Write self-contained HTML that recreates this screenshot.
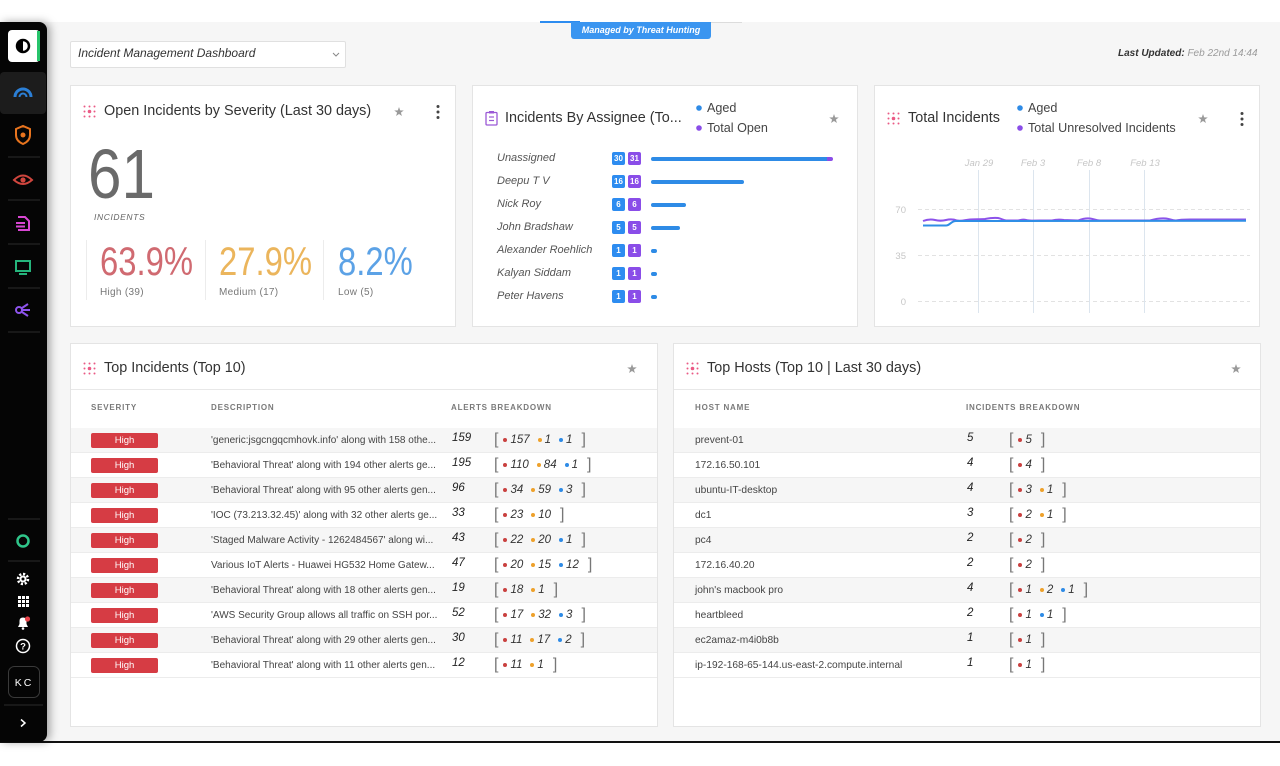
<!DOCTYPE html>
<html><head><meta charset="utf-8">
<style>
*{margin:0;padding:0;box-sizing:border-box}
body{width:1280px;height:766px;position:relative;overflow:hidden;background:#fff;font-family:"Liberation Sans",sans-serif;color:#333}
.t{position:absolute;white-space:nowrap}
.card{position:absolute;background:#fff;box-shadow:0 0 0 1px #e4e4e4}
.ttl{position:absolute;font-size:14.4px;line-height:18px;color:#333;white-space:nowrap}
.ch{position:absolute;top:59px;line-height:10px;font-size:8px;font-weight:bold;letter-spacing:.8px;color:#7a7a7a;white-space:nowrap}
.row{position:absolute;left:0;width:100%;height:25px;border-bottom:1px solid #ececec}
.odd{background:#f6f6f6}
.hb{position:absolute;left:20px;top:5px;width:67px;height:15px;background:#d63c44;color:#fff;font-size:9.5px;line-height:15px;text-align:center;border-radius:2px}
.ds{position:absolute;top:0;line-height:25px;font-size:10px;color:#444;white-space:nowrap}
.hn{position:absolute;left:21px;top:0;line-height:25px;font-size:10.2px;color:#444;white-space:nowrap}
.ct{position:absolute;top:0;line-height:20px;font-size:11.5px;font-style:italic;color:#222}
.bd{position:absolute;top:0;line-height:24px;white-space:nowrap}
.bk{font-size:16px;color:#777;vertical-align:middle}
.bd i{font-size:11.5px;color:#333;vertical-align:middle}
.dt{display:inline-block;width:4px;height:4px;border-radius:50%;vertical-align:middle;margin:0 3px 0 8px}
.dt.f{margin-left:5px}
.bk.e{margin-left:9px}
.r{background:#c9403f}.o{background:#eea12b}.b{background:#2e8be6}
.nm{position:absolute;left:497px;font-size:11px;font-style:italic;color:#555;line-height:14px;white-space:nowrap}
.bg{position:absolute;width:13px;height:13px;border-radius:2px;color:#fff;font-size:8px;font-weight:bold;line-height:13px;text-align:center}
.bar{position:absolute;left:651px;height:4px;border-radius:2px;background:#2e8be6}
.lg{position:absolute;font-size:12.6px;line-height:16px;color:#444;white-space:nowrap}
</style></head><body>

<div style="position:absolute;left:0;top:22px;width:1280px;height:720px;background:#f6f6f6"></div>
<div style="position:absolute;left:0;top:741px;width:1280px;height:2px;background:#111"></div>

<div style="position:absolute;left:540px;top:22px;width:202px;height:1px;background:#dcdcdc"></div>
<div style="position:absolute;left:540px;top:21px;width:40px;height:2px;background:#2d8cf0"></div>
<div style="position:absolute;left:571px;top:22px;width:140px;height:17px;background:#3a95f0;border-radius:0 0 3px 3px;color:#fff;font-size:9px;font-weight:bold;font-style:italic;line-height:17px;text-align:center">Managed by Threat Hunting</div>

<div style="position:absolute;left:70px;top:41px;width:276px;height:27px;background:#fff;border:1px solid #e0e0e0;border-radius:2px"></div>
<div class="t" style="left:78px;top:45px;font-size:12px;font-style:italic;line-height:16px;color:#333">Incident Management Dashboard</div>

<div class="t" style="left:1118px;top:47px;font-size:10px;line-height:13px"><b><i style="color:#333">Last Updated:</i></b> <i style="color:#9a9a9a">Feb 22nd 14:44</i></div>

<div class="card" style="left:71px;top:86px;width:384px;height:240px"></div>
<div class="card" style="left:473px;top:86px;width:384px;height:240px"></div>
<div class="card" style="left:875px;top:86px;width:384px;height:240px"></div>

<div class="ttl" style="left:104px;top:102px">Open Incidents by Severity (Last 30 days)</div>
<div class="t" style="left:88px;top:139px;font-size:70px;line-height:70px;color:#6a6a6a;transform:scaleX(.86);transform-origin:left">61</div>
<div class="t" style="left:94px;top:212px;font-size:8.5px;line-height:10px;font-style:italic;letter-spacing:.6px;color:#666">INCIDENTS</div>
<div style="position:absolute;left:86px;top:240px;width:1px;height:60px;background:#ececec"></div>
<div style="position:absolute;left:205px;top:240px;width:1px;height:60px;background:#ececec"></div>
<div style="position:absolute;left:323px;top:240px;width:1px;height:60px;background:#ececec"></div>
<div class="t" style="left:100px;top:242px;font-size:40px;line-height:40px;color:#d06a71;transform:scaleX(.82);transform-origin:left">63.9%</div>
<div class="t" style="left:219px;top:242px;font-size:40px;line-height:40px;color:#ebb55c;transform:scaleX(.82);transform-origin:left">27.9%</div>
<div class="t" style="left:338px;top:242px;font-size:40px;line-height:40px;color:#5ca2e6;transform:scaleX(.82);transform-origin:left">8.2%</div>
<div class="t" style="left:100px;top:287px;font-size:10px;line-height:12px;color:#777;letter-spacing:.3px">High (39)</div>
<div class="t" style="left:219px;top:287px;font-size:10px;line-height:12px;color:#777;letter-spacing:.3px">Medium (17)</div>
<div class="t" style="left:338px;top:287px;font-size:10px;line-height:12px;color:#777;letter-spacing:.3px">Low (5)</div>

<div class="ttl" style="left:505px;top:109px">Incidents By Assignee (To...</div>
<div class="lg" style="left:707px;top:100px">Aged</div>
<div class="lg" style="left:707px;top:120px">Total Open</div>

<div class="nm" style="top:151px">Unassigned</div>
<div class="nm" style="top:174px">Deepu T V</div>
<div class="nm" style="top:197px">Nick Roy</div>
<div class="nm" style="top:220px">John Bradshaw</div>
<div class="nm" style="top:243px">Alexander Roehlich</div>
<div class="nm" style="top:266px">Kalyan Siddam</div>
<div class="nm" style="top:289px">Peter Havens</div>

<div class="bg" style="left:612px;top:152px;background:#2d8cf0">30</div><div class="bg" style="left:628px;top:152px;background:#8a4de8">31</div>
<div class="bg" style="left:612px;top:175px;background:#2d8cf0">16</div><div class="bg" style="left:628px;top:175px;background:#8a4de8">16</div>
<div class="bg" style="left:612px;top:198px;background:#2d8cf0">6</div><div class="bg" style="left:628px;top:198px;background:#8a4de8">6</div>
<div class="bg" style="left:612px;top:221px;background:#2d8cf0">5</div><div class="bg" style="left:628px;top:221px;background:#8a4de8">5</div>
<div class="bg" style="left:612px;top:244px;background:#2d8cf0">1</div><div class="bg" style="left:628px;top:244px;background:#8a4de8">1</div>
<div class="bg" style="left:612px;top:267px;background:#2d8cf0">1</div><div class="bg" style="left:628px;top:267px;background:#8a4de8">1</div>
<div class="bg" style="left:612px;top:290px;background:#2d8cf0">1</div><div class="bg" style="left:628px;top:290px;background:#8a4de8">1</div>

<div class="bar" style="top:157px;width:182px;background:linear-gradient(to right,#2e8be6 0,#2e8be6 176px,#8a4de8 176px)"></div>
<div class="bar" style="top:180px;width:93px"></div>
<div class="bar" style="top:203px;width:35px"></div>
<div class="bar" style="top:226px;width:29px"></div>
<div class="bar" style="top:249px;width:6px"></div>
<div class="bar" style="top:272px;width:6px"></div>
<div class="bar" style="top:295px;width:6px"></div>

<div class="ttl" style="left:908px;top:109px">Total Incidents</div>
<div class="lg" style="left:1028px;top:100px">Aged</div>
<div class="lg" style="left:1028px;top:120px">Total Unresolved Incidents</div>

<div class="card" style="left:71px;top:344px;width:586px;height:382px">
  <div class="ttl" style="left:33px;top:15px">Top Incidents (Top 10)</div>
  <div style="position:absolute;left:0;top:45px;width:100%;height:1px;background:#e8e8e8"></div>
  <div class="ch" style="left:20px">SEVERITY</div>
  <div class="ch" style="left:140px">DESCRIPTION</div>
  <div class="ch" style="left:380px">ALERTS BREAKDOWN</div>

  <div class="row odd" style="top:84px"><div class="hb">High</div><div class="ds" style="left:140px">'generic:jsgcngqcmhovk.info' along with 158 othe...</div><div class="ct" style="left:381px">159</div><div class="bd" style="left:423px"><span class="bk">[</span><span class="dt f r"></span><i>157</i><span class="dt o"></span><i>1</i><span class="dt b"></span><i>1</i><span class="bk e">]</span></div></div>
  <div class="row" style="top:109px"><div class="hb">High</div><div class="ds" style="left:140px">'Behavioral Threat' along with 194 other alerts ge...</div><div class="ct" style="left:381px">195</div><div class="bd" style="left:423px"><span class="bk">[</span><span class="dt f r"></span><i>110</i><span class="dt o"></span><i>84</i><span class="dt b"></span><i>1</i><span class="bk e">]</span></div></div>
  <div class="row odd" style="top:134px"><div class="hb">High</div><div class="ds" style="left:140px">'Behavioral Threat' along with 95 other alerts gen...</div><div class="ct" style="left:381px">96</div><div class="bd" style="left:423px"><span class="bk">[</span><span class="dt f r"></span><i>34</i><span class="dt o"></span><i>59</i><span class="dt b"></span><i>3</i><span class="bk e">]</span></div></div>
  <div class="row" style="top:159px"><div class="hb">High</div><div class="ds" style="left:140px">'IOC (73.213.32.45)' along with 32 other alerts ge...</div><div class="ct" style="left:381px">33</div><div class="bd" style="left:423px"><span class="bk">[</span><span class="dt f r"></span><i>23</i><span class="dt o"></span><i>10</i><span class="bk e">]</span></div></div>
  <div class="row odd" style="top:184px"><div class="hb">High</div><div class="ds" style="left:140px">'Staged Malware Activity - 1262484567' along wi...</div><div class="ct" style="left:381px">43</div><div class="bd" style="left:423px"><span class="bk">[</span><span class="dt f r"></span><i>22</i><span class="dt o"></span><i>20</i><span class="dt b"></span><i>1</i><span class="bk e">]</span></div></div>
  <div class="row" style="top:209px"><div class="hb">High</div><div class="ds" style="left:140px">Various IoT Alerts - Huawei HG532 Home Gatew...</div><div class="ct" style="left:381px">47</div><div class="bd" style="left:423px"><span class="bk">[</span><span class="dt f r"></span><i>20</i><span class="dt o"></span><i>15</i><span class="dt b"></span><i>12</i><span class="bk e">]</span></div></div>
  <div class="row odd" style="top:234px"><div class="hb">High</div><div class="ds" style="left:140px">'Behavioral Threat' along with 18 other alerts gen...</div><div class="ct" style="left:381px">19</div><div class="bd" style="left:423px"><span class="bk">[</span><span class="dt f r"></span><i>18</i><span class="dt o"></span><i>1</i><span class="bk e">]</span></div></div>
  <div class="row" style="top:259px"><div class="hb">High</div><div class="ds" style="left:140px">'AWS Security Group allows all traffic on SSH por...</div><div class="ct" style="left:381px">52</div><div class="bd" style="left:423px"><span class="bk">[</span><span class="dt f r"></span><i>17</i><span class="dt o"></span><i>32</i><span class="dt b"></span><i>3</i><span class="bk e">]</span></div></div>
  <div class="row odd" style="top:284px"><div class="hb">High</div><div class="ds" style="left:140px">'Behavioral Threat' along with 29 other alerts gen...</div><div class="ct" style="left:381px">30</div><div class="bd" style="left:423px"><span class="bk">[</span><span class="dt f r"></span><i>11</i><span class="dt o"></span><i>17</i><span class="dt b"></span><i>2</i><span class="bk e">]</span></div></div>
  <div class="row" style="top:309px"><div class="hb">High</div><div class="ds" style="left:140px">'Behavioral Threat' along with 11 other alerts gen...</div><div class="ct" style="left:381px">12</div><div class="bd" style="left:423px"><span class="bk">[</span><span class="dt f r"></span><i>11</i><span class="dt o"></span><i>1</i><span class="bk e">]</span></div></div>
</div>

<div class="card" style="left:674px;top:344px;width:586px;height:382px">
  <div class="ttl" style="left:33px;top:15px">Top Hosts (Top 10 | Last 30 days)</div>
  <div style="position:absolute;left:0;top:45px;width:100%;height:1px;background:#e8e8e8"></div>
  <div class="ch" style="left:21px">HOST NAME</div>
  <div class="ch" style="left:292px">INCIDENTS BREAKDOWN</div>

  <div class="row odd" style="top:84px"><div class="hn">prevent-01</div><div class="ct" style="left:293px">5</div><div class="bd" style="left:335px"><span class="bk">[</span><span class="dt f r"></span><i>5</i><span class="bk e">]</span></div></div>
  <div class="row" style="top:109px"><div class="hn">172.16.50.101</div><div class="ct" style="left:293px">4</div><div class="bd" style="left:335px"><span class="bk">[</span><span class="dt f r"></span><i>4</i><span class="bk e">]</span></div></div>
  <div class="row odd" style="top:134px"><div class="hn">ubuntu-IT-desktop</div><div class="ct" style="left:293px">4</div><div class="bd" style="left:335px"><span class="bk">[</span><span class="dt f r"></span><i>3</i><span class="dt o"></span><i>1</i><span class="bk e">]</span></div></div>
  <div class="row" style="top:159px"><div class="hn">dc1</div><div class="ct" style="left:293px">3</div><div class="bd" style="left:335px"><span class="bk">[</span><span class="dt f r"></span><i>2</i><span class="dt o"></span><i>1</i><span class="bk e">]</span></div></div>
  <div class="row odd" style="top:184px"><div class="hn">pc4</div><div class="ct" style="left:293px">2</div><div class="bd" style="left:335px"><span class="bk">[</span><span class="dt f r"></span><i>2</i><span class="bk e">]</span></div></div>
  <div class="row" style="top:209px"><div class="hn">172.16.40.20</div><div class="ct" style="left:293px">2</div><div class="bd" style="left:335px"><span class="bk">[</span><span class="dt f r"></span><i>2</i><span class="bk e">]</span></div></div>
  <div class="row odd" style="top:234px"><div class="hn">john's macbook pro</div><div class="ct" style="left:293px">4</div><div class="bd" style="left:335px"><span class="bk">[</span><span class="dt f r"></span><i>1</i><span class="dt o"></span><i>2</i><span class="dt b"></span><i>1</i><span class="bk e">]</span></div></div>
  <div class="row" style="top:259px"><div class="hn">heartbleed</div><div class="ct" style="left:293px">2</div><div class="bd" style="left:335px"><span class="bk">[</span><span class="dt f r"></span><i>1</i><span class="dt b"></span><i>1</i><span class="bk e">]</span></div></div>
  <div class="row odd" style="top:284px"><div class="hn">ec2amaz-m4i0b8b</div><div class="ct" style="left:293px">1</div><div class="bd" style="left:335px"><span class="bk">[</span><span class="dt f r"></span><i>1</i><span class="bk e">]</span></div></div>
  <div class="row" style="top:309px"><div class="hn">ip-192-168-65-144.us-east-2.compute.internal</div><div class="ct" style="left:293px">1</div><div class="bd" style="left:335px"><span class="bk">[</span><span class="dt f r"></span><i>1</i><span class="bk e">]</span></div></div>
</div>

<div style="position:absolute;left:0;top:22px;width:47px;height:720px;background:#050505;border-radius:0 8px 8px 0;box-shadow:3px 0 9px rgba(0,0,0,.35)"></div>

<svg style="position:absolute;left:0;top:0" width="1280" height="766" viewBox="0 0 1280 766">
  <rect x="8" y="30" width="32" height="32" rx="4" fill="#fff"/>
  <rect x="37" y="31" width="3" height="30" fill="#27c46b"/>
  <circle cx="23" cy="46" r="6" fill="none" stroke="#000" stroke-width="2.5"/>
  <path d="M23 40 A6 6 0 0 0 23 52 Z" fill="#000"/>
  <rect x="0" y="72" width="46" height="42" rx="4" fill="#1c1c1c"/>
  <g stroke="#2a2a2a" stroke-width="1">
    <line x1="8" y1="157" x2="40" y2="157"/><line x1="8" y1="200" x2="40" y2="200"/>
    <line x1="8" y1="244" x2="40" y2="244"/><line x1="8" y1="288" x2="40" y2="288"/>
    <line x1="8" y1="332" x2="40" y2="332"/><line x1="8" y1="519" x2="40" y2="519"/>
    <line x1="8" y1="561" x2="40" y2="561"/><line x1="4" y1="705" x2="43" y2="705"/>
  </g>
  <path d="M15 97 A8 8 0 0 1 31 97" fill="none" stroke="#2b7fd6" stroke-width="3"/>
  <path d="M19.5 97 A3.5 3.5 0 0 1 26.5 97" fill="none" stroke="#2b7fd6" stroke-width="2"/>
  <path d="M16 129 L23 126 L30 129 L30 135 Q30 141 23 144 Q16 141 16 135 Z" fill="none" stroke="#e8741e" stroke-width="2"/>
  <circle cx="23" cy="135" r="2.5" fill="#e8741e"/>
  <path d="M14 180 Q23 171 32 180 Q23 188 14 180 Z" fill="none" stroke="#d0463e" stroke-width="2"/>
  <circle cx="23" cy="180" r="2.6" fill="#d0463e"/>
  <path d="M18 217 L25 217 L29 221 L29 230 L18 230" fill="none" stroke="#d946d3" stroke-width="2"/>
  <line x1="16" y1="223" x2="25" y2="223" stroke="#d946d3" stroke-width="2"/>
  <line x1="16" y1="226.5" x2="25" y2="226.5" stroke="#d946d3" stroke-width="2"/>
  <rect x="16" y="261" width="14" height="10" fill="none" stroke="#25b57c" stroke-width="2"/>
  <line x1="19" y1="274" x2="27" y2="274" stroke="#25b57c" stroke-width="2"/>
  <circle cx="19" cy="310" r="3" fill="none" stroke="#8e54ec" stroke-width="2"/>
  <g stroke="#8e54ec" stroke-width="2"><line x1="22" y1="308" x2="28" y2="304"/><line x1="22.5" y1="310" x2="30" y2="310"/><line x1="22" y1="312" x2="28" y2="316"/></g>
  <circle cx="23" cy="541" r="5.5" fill="none" stroke="#2fc58a" stroke-width="2.5"/>
  <circle cx="23" cy="579" r="5" fill="none" stroke="#fff" stroke-width="2.5" stroke-dasharray="2.2 1.7"/>
  <circle cx="23" cy="579" r="3.5" fill="#fff"/><circle cx="23" cy="579" r="1.5" fill="#050505"/>
  <g fill="#fff">
    <rect x="18" y="596" width="3" height="3"/><rect x="22" y="596" width="3" height="3"/><rect x="26" y="596" width="3" height="3"/>
    <rect x="18" y="600" width="3" height="3"/><rect x="22" y="600" width="3" height="3"/><rect x="26" y="600" width="3" height="3"/>
    <rect x="18" y="604" width="3" height="3"/><rect x="22" y="604" width="3" height="3"/><rect x="26" y="604" width="3" height="3"/>
  </g>
  <path d="M18 627 L19.5 624 L19.5 621 Q19.5 617.5 23 617.5 Q26.5 617.5 26.5 621 L26.5 624 L28 627 Z" fill="#fff"/>
  <circle cx="23" cy="628.5" r="1.3" fill="#fff"/>
  <circle cx="27.5" cy="619" r="2.6" fill="#e8434a"/>
  <circle cx="23" cy="646" r="6.5" fill="none" stroke="#fff" stroke-width="1.5"/>
  <text x="23" y="649.5" font-family="Liberation Sans, sans-serif" font-size="9.5" font-weight="bold" fill="#fff" text-anchor="middle">?</text>
  <rect x="8.5" y="666.5" width="31" height="31" rx="6" fill="none" stroke="#3a3a3a"/>
  <text x="24" y="686" font-family="Liberation Sans, sans-serif" font-size="10.5" fill="#fff" text-anchor="middle" letter-spacing="2">KC</text>
  <polyline points="21,719.5 25,723 21,726.5" fill="none" stroke="#fff" stroke-width="1.5"/>

  <polyline points="333,53 336,56 339,53" fill="none" stroke="#888" stroke-width="1"/>

  <g fill="#ea5a85">
    <g transform="translate(89.5,111.5)"><circle cx="-5" cy="-5" r="1"/><circle cx="0" cy="-5" r="1"/><circle cx="5" cy="-5" r="1"/><circle cx="-5" cy="0" r="1"/><circle cx="0" cy="0" r="1.8"/><circle cx="5" cy="0" r="1"/><circle cx="-5" cy="5" r="1"/><circle cx="0" cy="5" r="1"/><circle cx="5" cy="5" r="1"/></g>
    <g transform="translate(893.5,118.5)"><circle cx="-5" cy="-5" r="1"/><circle cx="0" cy="-5" r="1"/><circle cx="5" cy="-5" r="1"/><circle cx="-5" cy="0" r="1"/><circle cx="0" cy="0" r="1.8"/><circle cx="5" cy="0" r="1"/><circle cx="-5" cy="5" r="1"/><circle cx="0" cy="5" r="1"/><circle cx="5" cy="5" r="1"/></g>
    <g transform="translate(89.5,368.5)"><circle cx="-5" cy="-5" r="1"/><circle cx="0" cy="-5" r="1"/><circle cx="5" cy="-5" r="1"/><circle cx="-5" cy="0" r="1"/><circle cx="0" cy="0" r="1.8"/><circle cx="5" cy="0" r="1"/><circle cx="-5" cy="5" r="1"/><circle cx="0" cy="5" r="1"/><circle cx="5" cy="5" r="1"/></g>
    <g transform="translate(692.5,368.5)"><circle cx="-5" cy="-5" r="1"/><circle cx="0" cy="-5" r="1"/><circle cx="5" cy="-5" r="1"/><circle cx="-5" cy="0" r="1"/><circle cx="0" cy="0" r="1.8"/><circle cx="5" cy="0" r="1"/><circle cx="-5" cy="5" r="1"/><circle cx="0" cy="5" r="1"/><circle cx="5" cy="5" r="1"/></g>
  </g>
  <rect x="486" y="112.5" width="11" height="12.5" rx="1" fill="none" stroke="#9b59d6" stroke-width="1.3"/>
  <line x1="489" y1="117" x2="494" y2="117" stroke="#9b59d6" stroke-width="1.2"/>
  <line x1="489" y1="120.5" x2="494" y2="120.5" stroke="#9b59d6" stroke-width="1.2"/>
  <rect x="489" y="111" width="5" height="2.5" fill="#9b59d6"/>

  <g fill="#9a9a9a">
    <path transform="translate(399,112)" d="M0,-5 L1.18,-1.62 L4.76,-1.55 L1.9,0.62 L2.94,4.05 L0,2 L-2.94,4.05 L-1.9,0.62 L-4.76,-1.55 L-1.18,-1.62 Z"/>
    <path transform="translate(834,119)" d="M0,-5 L1.18,-1.62 L4.76,-1.55 L1.9,0.62 L2.94,4.05 L0,2 L-2.94,4.05 L-1.9,0.62 L-4.76,-1.55 L-1.18,-1.62 Z"/>
    <path transform="translate(1203,119)" d="M0,-5 L1.18,-1.62 L4.76,-1.55 L1.9,0.62 L2.94,4.05 L0,2 L-2.94,4.05 L-1.9,0.62 L-4.76,-1.55 L-1.18,-1.62 Z"/>
    <path transform="translate(632,369)" d="M0,-5 L1.18,-1.62 L4.76,-1.55 L1.9,0.62 L2.94,4.05 L0,2 L-2.94,4.05 L-1.9,0.62 L-4.76,-1.55 L-1.18,-1.62 Z"/>
    <path transform="translate(1236,369)" d="M0,-5 L1.18,-1.62 L4.76,-1.55 L1.9,0.62 L2.94,4.05 L0,2 L-2.94,4.05 L-1.9,0.62 L-4.76,-1.55 L-1.18,-1.62 Z"/>
  </g>
  <g fill="#444">
    <circle cx="438" cy="106.5" r="1.5"/><circle cx="438" cy="112" r="1.5"/><circle cx="438" cy="117.5" r="1.5"/>
    <circle cx="1242" cy="113.5" r="1.5"/><circle cx="1242" cy="119" r="1.5"/><circle cx="1242" cy="124.5" r="1.5"/>
  </g>

  <circle cx="699" cy="108" r="2.8" fill="#2e8be6"/>
  <circle cx="699" cy="128" r="2.8" fill="#8a4de8"/>
  <circle cx="1020" cy="108" r="2.8" fill="#2e8be6"/>
  <circle cx="1020" cy="128" r="2.8" fill="#8a4de8"/>

  <g stroke="#e2e2e2" stroke-width="1" stroke-dasharray="4 3">
    <line x1="918" y1="209.5" x2="1250" y2="209.5"/>
    <line x1="918" y1="255.5" x2="1250" y2="255.5"/>
    <line x1="918" y1="301.5" x2="1250" y2="301.5"/>
  </g>
  <g stroke="#dce5ee" stroke-width="1">
    <line x1="978.5" y1="170" x2="978.5" y2="313"/>
    <line x1="1033.5" y1="170" x2="1033.5" y2="313"/>
    <line x1="1089.5" y1="170" x2="1089.5" y2="313"/>
    <line x1="1144.5" y1="170" x2="1144.5" y2="313"/>
  </g>
  <g font-family="Liberation Sans, sans-serif" font-size="9.5" fill="#c6c6c6">
    <text x="906" y="213" text-anchor="end">70</text>
    <text x="906" y="259" text-anchor="end">35</text>
    <text x="906" y="305" text-anchor="end">0</text>
    <g font-style="italic" text-anchor="middle">
      <text x="979" y="166">Jan 29</text>
      <text x="1033" y="166">Feb 3</text>
      <text x="1089" y="166">Feb 8</text>
      <text x="1145" y="166">Feb 13</text>
    </g>
  </g>
  <path d="M923 221 C927 219.5 931 219 935 220 C939 221 942 221 946 220 C950 219 953 219 957 220.5 C961 221.5 965 220 970 219.5 C975 219 980 219.5 985 219 C990 218 994 217.5 998 218 C1001 218.5 1003 220 1006 220.5 L1018 220.5 C1021 220 1023 219 1026 220 C1029 221 1030 220.5 1040 220.5 L1052 220.5 C1056 219.5 1060 219.5 1064 220 L1078 220.5 C1082 219 1086 218 1090 218.5 C1094 219 1096 220.5 1100 220.5 L1150 220.5 C1155 219 1160 218 1166 218.5 C1170 219 1172 220.5 1176 220.5 C1180 219.5 1184 219.5 1190 219.5 L1246 219.5" fill="none" stroke="#8c52ea" stroke-width="2"/>
  <path d="M923 225.5 L946 225.5 C950 225.5 951 221 956 221 L1000 221 L1246 220.8" fill="none" stroke="#2f8ee6" stroke-width="2"/>
</svg>
</body></html>
